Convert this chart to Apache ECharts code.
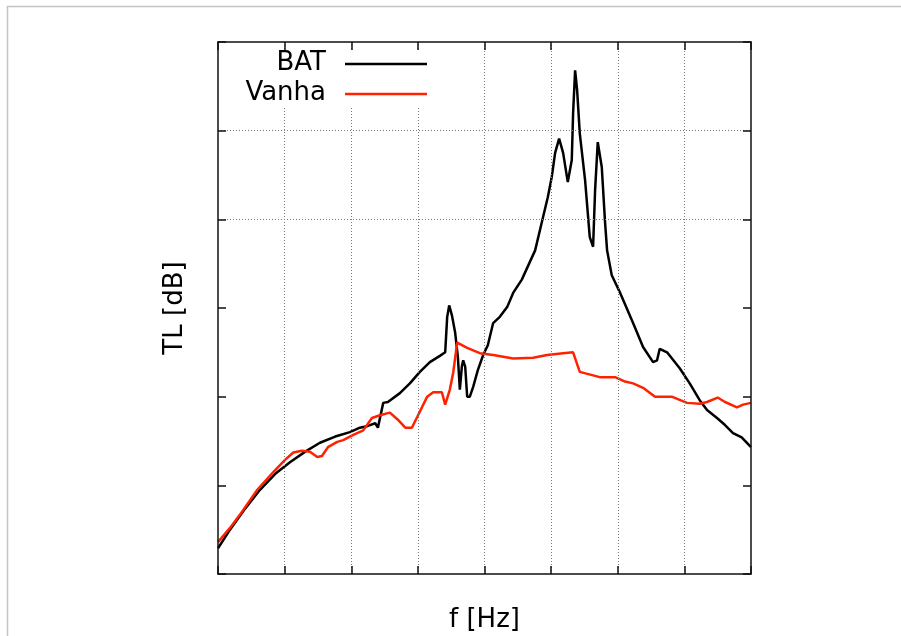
<!DOCTYPE html>
<html>
<head>
<meta charset="utf-8">
<script src="https://cdn.jsdelivr.net/npm/echarts@6/dist/echarts.min.js"></script>
<style>html,body{margin:0;padding:0;background:#fff;overflow:hidden;}#c{width:901px;height:636px;}</style>
</head>
<body>
<div id="c"></div>
<script>
// f (arbitrary units, axis 0..8) and TL (dB, axis 0..60)
const batF = [0.0,0.18,0.41,0.63,0.86,1.08,1.31,1.53,1.76,1.98,2.13,2.25,2.36,2.40,2.48,2.55,2.73,2.88,3.03,3.18,3.33,3.41,3.44,3.47,3.51,3.56,3.60,3.63,3.66,3.68,3.71,3.74,3.78,3.83,3.90,3.98,4.05,4.13,4.23,4.34,4.43,4.56,4.76,4.88,4.95,5.01,5.06,5.12,5.18,5.25,5.31,5.33,5.36,5.39,5.43,5.51,5.58,5.63,5.66,5.70,5.76,5.81,5.84,5.91,6.03,6.23,6.38,6.53,6.59,6.63,6.74,6.93,7.08,7.23,7.34,7.49,7.61,7.73,7.86,8.0];
const batTL = [2.9,5.0,7.4,9.5,11.3,12.6,13.8,14.8,15.5,16.0,16.5,16.7,17.0,16.5,19.3,19.4,20.4,21.5,22.8,23.9,24.6,25.0,29.0,30.3,29.2,27.2,24.5,20.8,23.4,24.1,23.4,20.0,20.0,21.1,23.0,24.7,25.8,28.3,29.0,30.1,31.7,33.2,36.5,40.3,42.5,44.8,47.5,49.1,47.5,44.2,46.7,52.0,56.8,54.6,49.7,44.4,38.0,36.9,43.3,48.7,45.9,39.6,36.5,33.7,31.8,28.3,25.6,23.9,24.1,25.4,25.0,23.2,21.5,19.6,18.5,17.6,16.8,15.9,15.4,14.3];
const vanhaF = [0.0,0.18,0.33,0.59,0.83,1.01,1.13,1.26,1.38,1.49,1.56,1.65,1.79,1.88,2.03,2.18,2.31,2.43,2.58,2.70,2.81,2.91,2.99,3.14,3.23,3.36,3.41,3.48,3.53,3.59,3.74,3.93,4.13,4.43,4.73,4.94,5.18,5.33,5.43,5.73,5.96,6.11,6.23,6.38,6.56,6.81,7.04,7.23,7.34,7.50,7.61,7.79,7.88,8.0];
const vanhaTL = [3.6,5.2,6.7,9.5,11.5,12.9,13.7,13.9,13.8,13.2,13.3,14.3,14.9,15.1,15.7,16.2,17.6,17.9,18.2,17.4,16.5,16.5,17.7,20.0,20.5,20.5,19.1,20.8,22.7,26.1,25.5,24.9,24.7,24.3,24.4,24.7,24.9,25.0,22.8,22.2,22.2,21.7,21.5,21.0,20.0,20.0,19.3,19.2,19.4,19.9,19.4,18.8,19.1,19.3];
const seriesNames = ['BAT', 'Vanha'];
const xTitle = 'f [Hz]';
const yTitle = 'TL [dB]';

const zip = (a, b) => a.map((v, i) => [v, b[i]]);
const chart = echarts.init(document.getElementById('c'), null, {renderer: 'canvas', width: 901, height: 636});
const font = '"DejaVu Sans", "Liberation Sans", Arial, sans-serif';
const G = '#7a7a7a';
const T = 'rgba(0,0,0,0)';
const boxLine = {show: true, onZero: false, lineStyle: {color: '#111', width: 1.5}};
const tickIn = {show: true, inside: true, length: 8, lineStyle: {color: '#111', width: 1.5}};

chart.setOption({
  animation: false,
  backgroundColor: '#fff',
  grid: {left: 218, top: 42, width: 533, height: 532, containLabel: false, outerBoundsMode: 'none'},
  xAxis: [
    {type: 'value', min: 0, max: 8, interval: 1, position: 'bottom',
     axisLine: boxLine, axisTick: tickIn, axisLabel: {show: false},
     splitLine: {show: true, showMinLine: false, showMaxLine: false, lineStyle: {color: G, width: 1, type: [1, 2]}},
     name: xTitle, nameLocation: 'middle', nameGap: 33,
     nameTextStyle: {fontFamily: font, fontSize: 26, color: '#000'}, z: 10},
    {type: 'value', min: 0, max: 8, interval: 1, position: 'top',
     axisLine: boxLine, axisTick: tickIn, axisLabel: {show: false}, splitLine: {show: false}, z: 10}
  ],
  yAxis: [
    {type: 'value', min: 0, max: 60, interval: 10, position: 'left',
     axisLine: boxLine, axisTick: tickIn, axisLabel: {show: false},
     splitLine: {show: true, lineStyle: {color: [T, T, T, T, G, G, T], width: 1, type: [1, 2]}},
     name: yTitle, nameLocation: 'middle', nameGap: 30, nameRotate: 90,
     nameTextStyle: {fontFamily: font, fontSize: 26, color: '#000'}, z: 10},
    {type: 'value', min: 0, max: 60, interval: 10, position: 'right',
     axisLine: boxLine, axisTick: tickIn, axisLabel: {show: false}, splitLine: {show: false}, z: 10}
  ],
  series: [
    {name: seriesNames[0], type: 'line', data: zip(batF, batTL), showSymbol: false, symbol: 'none',
     lineStyle: {color: '#000', width: 2.5}, z: 3},
    {name: seriesNames[1], type: 'line', data: zip(vanhaF, vanhaTL), showSymbol: false, symbol: 'none',
     lineStyle: {color: '#ff2200', width: 2.5}, z: 4}
  ],
  graphic: [
    {type: 'rect', left: 5, top: 4, shape: {width: 1000, height: 1000},
     style: {fill: 'none', stroke: '#c4c4c4', lineWidth: 1.5}, z: -10, silent: true},
    {type: 'rect', left: 225, top: 51, shape: {width: 210, height: 57},
     style: {fill: '#fff'}, z: 50, silent: true},
    {type: 'text', x: 326, y: 63, z: 51,
     style: {text: seriesNames[0], font: '26px ' + font, fill: '#000', align: 'right', verticalAlign: 'middle'}},
    {type: 'text', x: 326, y: 93, z: 51,
     style: {text: seriesNames[1], font: '26px ' + font, fill: '#000', align: 'right', verticalAlign: 'middle'}},
    {type: 'line', shape: {x1: 345, y1: 64, x2: 427, y2: 64}, z: 51,
     style: {stroke: '#000', lineWidth: 2.5}},
    {type: 'line', shape: {x1: 345, y1: 94, x2: 427, y2: 94}, z: 51,
     style: {stroke: '#ff2200', lineWidth: 2.5}}
  ]
});
</script>
</body>
</html>
